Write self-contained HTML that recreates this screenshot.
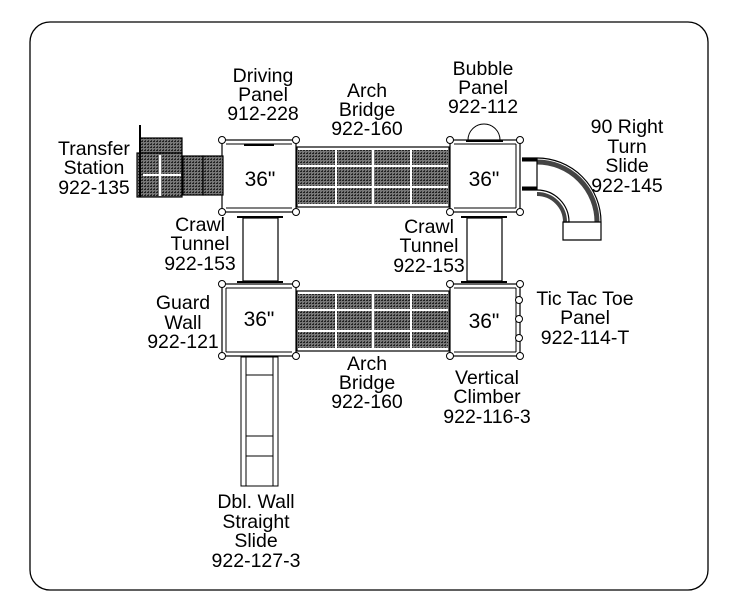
<!DOCTYPE html>
<html><head><meta charset="utf-8"><style>
body{margin:0;background:#fff}
svg{display:block}
text{font-family:"Liberation Sans",Arial,sans-serif;font-size:19.5px;fill:#000;text-anchor:middle}
</style></head><body>
<svg width="734" height="608" viewBox="0 0 734 608">
<defs>
<pattern id="h" width="3" height="3" patternUnits="userSpaceOnUse">
<rect width="3" height="3" fill="#777"/><rect width="2" height="1" fill="#222"/><rect x="1" y="2" width="1" height="1" fill="#333"/>
</pattern>
</defs>
<rect x="30" y="22" width="678" height="568" rx="20" fill="none" stroke="#000" stroke-width="1.3"/>

<g stroke="#000" stroke-width="1.2">
<rect x="297" y="147" width="152" height="60" fill="#fff"/>
<rect x="298" y="150" width="150" height="54" fill="url(#h)" stroke="none"/>
<rect x="297" y="291" width="152" height="60" fill="#fff"/>
<rect x="298" y="294" width="150" height="54" fill="url(#h)" stroke="none"/>
</g>
<g stroke="#fff" stroke-width="2">
<line x1="298" y1="166" x2="448" y2="166"/><line x1="298" y1="187" x2="448" y2="187"/>
<line x1="336" y1="150" x2="336" y2="204"/><line x1="373" y1="150" x2="373" y2="204"/><line x1="411" y1="150" x2="411" y2="204"/>
<line x1="298" y1="310" x2="448" y2="310"/><line x1="298" y1="331" x2="448" y2="331"/>
<line x1="336" y1="294" x2="336" y2="348"/><line x1="373" y1="294" x2="373" y2="348"/><line x1="411" y1="294" x2="411" y2="348"/>
</g>

<g fill="none" stroke="#000" stroke-width="1.2">
<rect x="243" y="218" width="35" height="63"/>
<line x1="237" y1="217" x2="283" y2="217" stroke-width="2"/><line x1="237" y1="282" x2="283" y2="282" stroke-width="2"/>
<rect x="467" y="218" width="35" height="63"/>
<line x1="461" y1="217" x2="507" y2="217" stroke-width="2"/><line x1="461" y1="282" x2="507" y2="282" stroke-width="2"/>
</g>

<g fill="#fff" stroke="#000" stroke-width="1.2">
<rect x="222" y="140" width="74" height="72"/>
<rect x="450" y="140" width="70" height="72"/>
<rect x="222" y="284" width="74" height="72"/>
<rect x="450" y="284" width="70" height="72"/>
</g>
<g fill="none" stroke="#000" stroke-width="1">
<line x1="226" y1="144" x2="292" y2="144"/><line x1="226" y1="208" x2="292" y2="208"/>
<line x1="454" y1="144" x2="516" y2="144"/><line x1="454" y1="208" x2="516" y2="208"/><line x1="516" y1="144" x2="516" y2="208"/>
<line x1="226" y1="288" x2="292" y2="288"/><line x1="226" y1="352" x2="292" y2="352"/><line x1="226" y1="288" x2="226" y2="352"/>
<line x1="454" y1="288" x2="516" y2="288"/><line x1="454" y1="352" x2="516" y2="352"/><line x1="516" y1="288" x2="516" y2="352"/>
<line x1="244" y1="145" x2="274" y2="145" stroke-width="2"/>
<path d="M468 140 A16 16 0 0 1 500 140"/>
<line x1="466" y1="141" x2="503" y2="141" stroke-width="2"/>
</g>
<g fill="#fff" stroke="#000" stroke-width="1">
<circle cx="222" cy="140" r="3.5"/><circle cx="296" cy="140" r="3.5"/><circle cx="222" cy="212" r="3.5"/><circle cx="296" cy="212" r="3.5"/>
<circle cx="450" cy="140" r="3.5"/><circle cx="520" cy="140" r="3.5"/><circle cx="450" cy="212" r="3.5"/><circle cx="520" cy="212" r="3.5"/>
<circle cx="222" cy="284" r="3.5"/><circle cx="296" cy="284" r="3.5"/><circle cx="222" cy="356" r="3.5"/><circle cx="296" cy="356" r="3.5"/>
<circle cx="450" cy="284" r="3.5"/><circle cx="520" cy="284" r="3.5"/><circle cx="450" cy="356" r="3.5"/><circle cx="520" cy="356" r="3.5"/>
<circle cx="519" cy="300" r="3.5"/><circle cx="519" cy="319" r="3.5"/><circle cx="519" cy="338" r="3.5"/>
</g>

<g stroke="#000" stroke-width="1.2">
<rect x="140" y="138" width="42" height="15" fill="url(#h)"/>
<rect x="137" y="153" width="45" height="44" fill="url(#h)"/>
<rect x="183" y="156" width="20" height="39" fill="url(#h)"/>
<rect x="203" y="156" width="20" height="39" fill="url(#h)"/>
<line x1="140" y1="125" x2="140" y2="197" stroke-width="2"/>
</g>
<g stroke="#fff" stroke-width="2"><line x1="160" y1="155" x2="160" y2="196"/><line x1="143" y1="175" x2="181" y2="175"/></g>

<g fill="none" stroke="#000" stroke-width="1">
<rect x="241" y="357" width="37" height="129"/>
<line x1="246" y1="357" x2="246" y2="486"/><line x1="273" y1="357" x2="273" y2="486"/>
<line x1="246" y1="375" x2="273" y2="375"/><line x1="246" y1="436" x2="273" y2="436"/><line x1="246" y1="456" x2="273" y2="456"/>
</g>

<g fill="none" stroke="#000" stroke-width="1.2">
<path d="M522 158 L537 158 A64 64 0 0 1 601 222 L601 240 L563 240 L563 222 L569 222 A32 32 0 0 0 537 190 L522 190" fill="#fff"/>
<path d="M537 162 A60 60 0 0 1 597 222" stroke="#444" stroke-width="5"/>
<path d="M537 194 A28 28 0 0 1 565 222" stroke="#444" stroke-width="4"/>
<line x1="537" y1="158" x2="537" y2="190"/>
<line x1="522" y1="160" x2="537" y2="160" stroke-width="3"/><line x1="522" y1="188" x2="537" y2="188" stroke-width="3"/>
<line x1="563" y1="222" x2="601" y2="222"/>
</g>

<text x="263" y="82">Driving</text><text x="263" y="101">Panel</text><text x="263" y="120">912-228</text>
<text x="367" y="97">Arch</text><text x="367" y="116">Bridge</text><text x="367" y="135">922-160</text>
<text x="483" y="75">Bubble</text><text x="483" y="94">Panel</text><text x="483" y="113">922-112</text>
<text x="627" y="133">90 Right</text><text x="627" y="153">Turn</text><text x="627" y="172">Slide</text><text x="627" y="192">922-145</text>
<text x="94" y="155">Transfer</text><text x="94" y="174">Station</text><text x="94" y="194">922-135</text>
<text x="200" y="231">Crawl</text><text x="200" y="250">Tunnel</text><text x="200" y="270">922-153</text>
<text x="429" y="233">Crawl</text><text x="429" y="252">Tunnel</text><text x="429" y="272">922-153</text>
<text x="183" y="309">Guard</text><text x="183" y="329">Wall</text><text x="183" y="348">922-121</text>
<text x="585" y="305">Tic Tac Toe</text><text x="585" y="324">Panel</text><text x="585" y="344">922-114-T</text>
<text x="367" y="370">Arch</text><text x="367" y="389">Bridge</text><text x="367" y="408">922-160</text>
<text x="487" y="384">Vertical</text><text x="487" y="403">Climber</text><text x="487" y="423">922-116-3</text>
<text x="256" y="508">Dbl. Wall</text><text x="256" y="528">Straight</text><text x="256" y="547">Slide</text><text x="256" y="567">922-127-3</text>
<text x="260" y="186" style="font-size:21px">36"</text>
<text x="484" y="186" style="font-size:21px">36"</text>
<text x="259" y="326" style="font-size:21px">36"</text>
<text x="484" y="328" style="font-size:21px">36"</text>
</svg>
</body></html>
